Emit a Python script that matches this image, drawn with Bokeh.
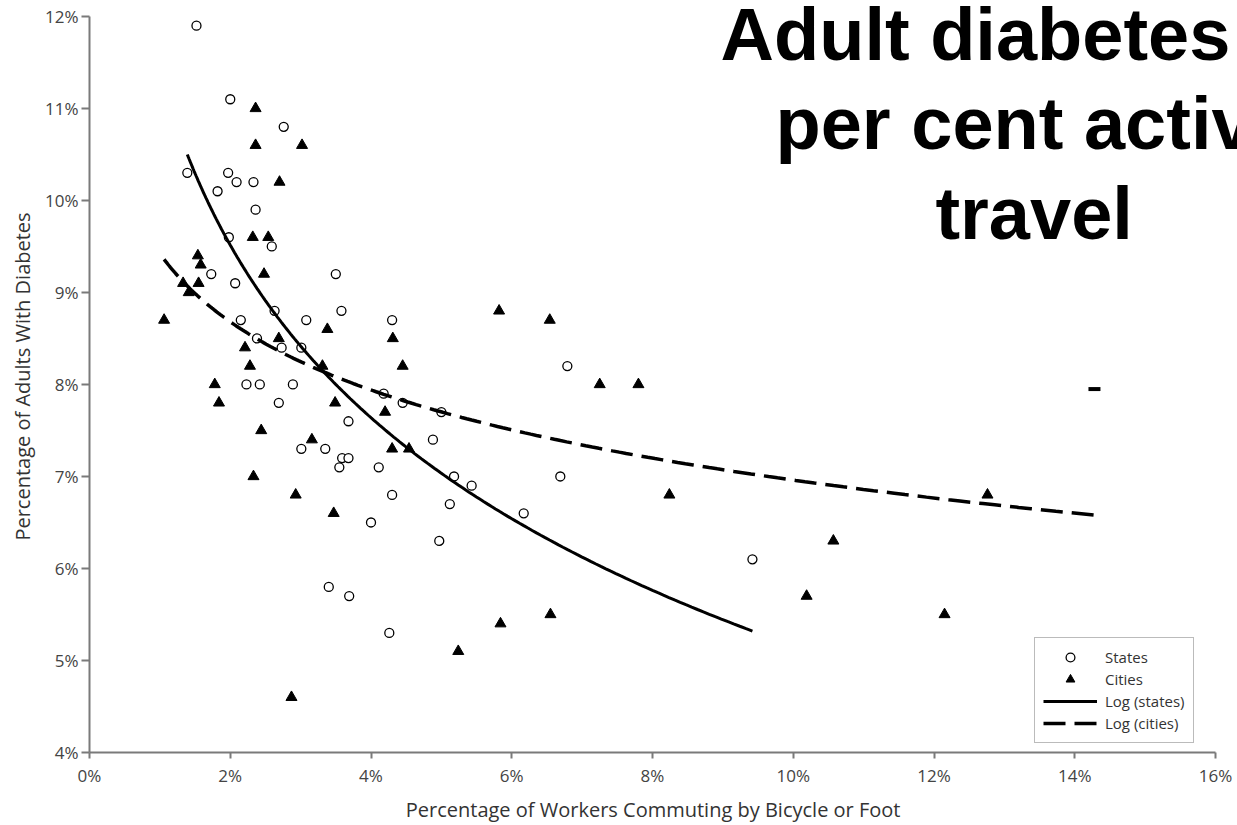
import numpy as np
from bokeh.plotting import figure
from bokeh.models import (Range1d, SingleIntervalTicker, PrintfTickFormatter, Label,
                          Legend, LegendItem)
from bokeh.embed import file_html
from bokeh.resources import INLINE

# ---- data (percent) ----
states_x = [1.52, 2.00, 2.76, 1.39, 1.97, 2.09, 2.33, 1.82, 2.36, 1.98, 2.59, 1.73, 3.50,
            2.07, 2.15, 2.63, 3.08, 3.58, 4.30, 2.38, 2.73, 3.01, 2.23, 2.42, 2.89, 2.69,
            4.18, 4.45, 3.68, 5.00, 3.01, 3.35, 3.59, 3.68, 3.55, 4.11, 4.30, 4.00, 4.88,
            5.18, 5.43, 6.69, 5.12, 6.17, 4.97, 6.79, 9.42, 3.40, 3.69, 4.26]
states_y = [11.9, 11.1, 10.8, 10.3, 10.3, 10.2, 10.2, 10.1, 9.9, 9.6, 9.5, 9.2, 9.2,
            9.1, 8.7, 8.8, 8.7, 8.8, 8.7, 8.5, 8.4, 8.4, 8.0, 8.0, 8.0, 7.8,
            7.9, 7.8, 7.6, 7.7, 7.3, 7.3, 7.2, 7.2, 7.1, 7.1, 6.8, 6.5, 7.4,
            7.0, 6.9, 7.0, 6.7, 6.6, 6.3, 8.2, 6.1, 5.8, 5.7, 5.3]

cities_x = [2.36, 2.36, 3.02, 2.70, 2.32, 2.54, 1.54, 1.58, 2.48, 1.55, 1.33, 1.41, 1.06,
            3.38, 4.31, 4.45, 2.21, 2.69, 2.28, 3.31, 1.78, 1.84, 3.49, 4.20, 2.44, 3.16,
            4.30, 4.54, 2.33, 2.93, 3.47, 5.82, 6.54, 7.25, 7.80, 8.24, 10.19, 10.57,
            12.15, 12.76, 2.87, 5.24, 5.84, 6.55]
cities_y = [11.0, 10.6, 10.6, 10.2, 9.6, 9.6, 9.4, 9.3, 9.2, 9.1, 9.1, 9.0, 8.7,
            8.6, 8.5, 8.2, 8.4, 8.5, 8.2, 8.2, 8.0, 7.8, 7.8, 7.7, 7.5, 7.4,
            7.3, 7.3, 7.0, 6.8, 6.6, 8.8, 8.7, 8.0, 8.0, 6.8, 5.7, 6.3,
            5.5, 6.8, 4.6, 5.1, 5.4, 5.5]
# a city point shown only as a clipped dash at the right
cities_edge_x = [14.28]
cities_edge_y = [7.95]

# logarithmic trend lines: end points
states_trend_x = [1.39, 9.42]
states_trend_y = [10.50, 5.32]
cities_trend_x = [1.06, 14.28]
cities_trend_y = [9.36, 6.58]

title_lines = ["Adult diabetes", "per cent active", "travel"]
x_label = "Percentage of Workers Commuting by Bicycle or Foot"
y_label = "Percentage of Adults With Diabetes"
legend_labels = ["States", "Cities", "Log (states)", "Log (cities)"]


def log_curve(ends_x, ends_y, n=200):
    x0, x1 = ends_x
    y0, y1 = ends_y
    b = (y1 - y0) / np.log(x1 / x0)
    a = y0 - b * np.log(x0)
    gx = np.geomspace(x0, x1, n)
    return gx, a + b * np.log(gx)


sx, sy = log_curve(states_trend_x, states_trend_y)
cx, cy = log_curve(cities_trend_x, cities_trend_y)

PX_PER_X = 70.375   # 1126 px over 16 %
PX_PER_Y = 92.375   # 739 px over 8 %
p = figure(width=1237, height=825, output_backend="svg", toolbar_location=None,
           title=None,
           x_range=Range1d(0, 16 + 22 / PX_PER_X),
           y_range=Range1d(4, 12 + 16 / PX_PER_Y),
           min_border_left=89, min_border_right=0, min_border_top=0,
           min_border_bottom=70)
p.outline_line_color = None
p.grid.visible = False
p.background_fill_color = "white"
p.border_fill_color = "white"

font = "Open Sans"
for ax in (p.xaxis[0], p.yaxis[0]):
    ax.axis_line_color = "#7a7a7a"
    ax.axis_line_width = 2
    ax.major_tick_line_color = "#7a7a7a"
    ax.major_tick_line_width = 2
    ax.major_tick_in = 0
    ax.minor_tick_line_color = None
    ax.major_label_text_font = font
    ax.major_label_text_font_size = "17px"
    ax.major_label_text_color = "#444444"
    ax.axis_label_text_font = font
    ax.axis_label_text_font_size = "20px"
    ax.axis_label_text_font_style = "normal"
    ax.axis_label_text_color = "#333333"
    ax.formatter = PrintfTickFormatter(format="%d%%")

p.xaxis[0].bounds = (0, 16)
p.yaxis[0].bounds = (4, 12)
p.xaxis[0].ticker = SingleIntervalTicker(interval=2, num_minor_ticks=0)
p.yaxis[0].ticker = SingleIntervalTicker(interval=1, num_minor_ticks=0)
p.xaxis[0].major_tick_out = 6
p.yaxis[0].major_tick_out = 8
p.xaxis[0].major_label_standoff = 5
p.yaxis[0].major_label_standoff = 3
# trailing no-break spaces keep the title centred under the 0-16 % axis
p.xaxis[0].axis_label = x_label + "\u00a0" * 4
# leading no-break spaces keep the title centred beside the 4-12 % axis
p.yaxis[0].axis_label = y_label
p.xaxis[0].axis_label_standoff = 6
p.yaxis[0].axis_label_standoff = 6

r_s = p.scatter(states_x, states_y, marker="circle", size=9, fill_color="white",
                line_color="black", line_width=1.3)
r_c = p.scatter(cities_x, cities_y, marker="triangle", size=11, fill_color="black",
                line_color="black", line_width=1)
p.scatter(cities_edge_x, cities_edge_y, marker="dash", size=12, line_color="black",
          line_width=4)
r_ls = p.line(sx, sy, line_color="black", line_width=3)
r_lc = p.line(cx, cy, line_color="black", line_width=3.5, line_dash="22 9")

legend = Legend(items=[LegendItem(label=legend_labels[0], renderers=[r_s]),
                       LegendItem(label=legend_labels[1], renderers=[r_c]),
                       LegendItem(label=legend_labels[2], renderers=[r_ls]),
                       LegendItem(label=legend_labels[3], renderers=[r_lc])],
                location=(945, 9))
legend.border_line_color = "#777777"
legend.border_line_width = 1.5
legend.background_fill_color = "white"
legend.background_fill_alpha = 1
legend.label_text_font = font
legend.label_text_font_size = "15px"
legend.label_text_color = "#333333"
legend.glyph_width = 54
legend.glyph_height = 22
legend.label_height = 22
legend.spacing = 0
legend.padding = 8
legend.label_standoff = 8
p.add_layout(legend)

# title (bold, runs off the right edge as in the original)
title_x = [8.967, 9.748, 12.02]
title_y = [11.805, 10.831, 9.856]
for t, tx, ty in zip(title_lines, title_x, title_y):
    p.add_layout(Label(x=tx, y=ty, text=t, text_font="Liberation Sans",
                       text_font_style="bold", text_font_size="74px",
                       text_color="black", text_align="left",
                       text_baseline="alphabetic"))

open("out.html", "w").write(file_html(p, INLINE))
